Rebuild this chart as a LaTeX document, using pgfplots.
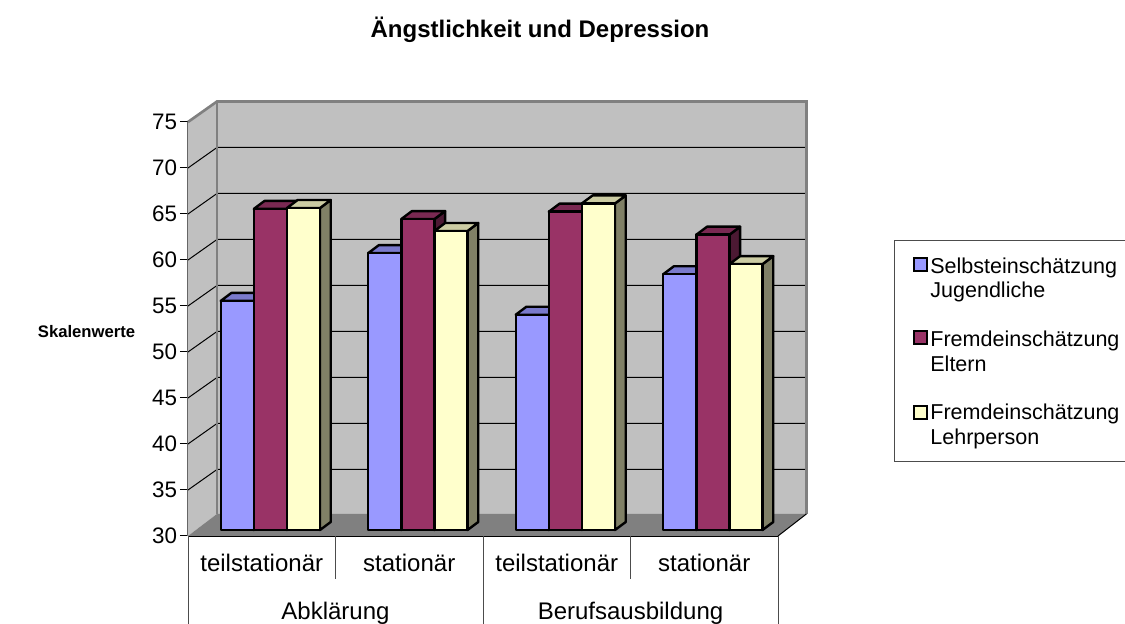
\documentclass[border=0pt]{standalone}
\usepackage{pgfplots}
\pgfplotsset{compat=1.18}
\usepackage{fontspec}
\setmainfont{Liberation Sans}
\definecolor{wall}{HTML}{C0C0C0}
\definecolor{floorc}{HTML}{808080}
\definecolor{sa}{HTML}{9999FF}
\definecolor{sb}{HTML}{993366}
\definecolor{sc}{HTML}{FFFFCC}
% px = 0.75pt ; 147.5 px per category, 9.2 px per scale unit
\newcommand\threedbar[4]{% category, series, value, colour
  \pgfmathsetmacro\xa{#1+0.2217+#2*0.2245}%
  \pgfmathsetmacro\xb{\xa+0.2245}%
  \pgfmathsetmacro\xc{\xb+0.0725}%
  \pgfmathsetmacro\xd{\xa+0.0725}%
  \pgfmathsetmacro\ya{30.65}%
  \pgfmathsetmacro\yb{#3+0.65}%
  \pgfmathsetmacro\yc{\yb+0.87}%
  \pgfmathsetmacro\yd{\ya+0.87}%
  \edef\temp{%
  \noexpand\addplot[draw=black,line width=1.8pt,line join=round,fill=#4!50!black,forget plot] coordinates {(\xb,\ya) (\xc,\yd) (\xc,\yc) (\xb,\yb)} --cycle;
  \noexpand\addplot[draw=black,line width=1.8pt,line join=round,fill=#4!80!black,forget plot] coordinates {(\xa,\yb) (\xb,\yb) (\xc,\yc) (\xd,\yc)} --cycle;
  \noexpand\addplot[draw=black,line width=1.8pt,line join=round,fill=#4,forget plot] coordinates {(\xa,\ya) (\xb,\ya) (\xb,\yb) (\xa,\yb)} --cycle;
  }\temp}
\newcommand\gridl[1]{%
  \pgfmathsetmacro\yb{#1+2.23}%
  \edef\temp{\noexpand\addplot[black,line width=0.75pt,forget plot] coordinates {(0,#1) (0.1966,\yb) (4.193,\yb)};}\temp}
\begin{document}
\begin{tikzpicture}
\path[use as bounding box] (0,0) rectangle (843.75pt,468pt);
\begin{axis}[
  at={(141pt,66pt)},anchor=origin,
  scale only axis,width=442.5pt,height=310.5pt,
  xmin=0,xmax=4,ymin=30,ymax=75,clip=false,
  axis lines=left,
  axis line style={-},
  x axis line style={draw=black,line width=0.9pt},
  y axis line style={draw=black!60,line width=0.9pt},
  xtick=\empty,
  ytick={30,35,...,75},
  tick style={black,line width=0.75pt},
  major tick length=6pt,
  tick align=outside,
  /pgf/number format/assume math mode=true,
  yticklabel style={font=\fontsize{16.8}{18}\selectfont,inner sep=2pt},
  title={\textbf{Ängstlichkeit und Depression}},
  title style={at={(rel axis cs:0.5966,1.2029)},anchor=center,font=\fontsize{18}{20}\selectfont,inner sep=0pt},
  ylabel={\textbf{Skalenwerte}},
  ylabel style={at={(rel axis cs:-0.172,0.495)},anchor=center,rotate=-90,font=\fontsize{12.5}{14}\selectfont,inner sep=0pt},
  legend style={at={(rel axis cs:1.1958,0.715)},anchor=north west,
    draw=black!70,line width=0.75pt,
    inner xsep=14pt,inner ysep=9.65pt,
    font=\fontsize{16.15}{18.5}\selectfont,
    nodes={text depth=},
    cells={anchor=west},
    row sep=13.85pt},
  legend cell align=left,
  legend image code/.code={\draw[#1,line width=1.5pt,draw=black] (-2pt,7.1pt) rectangle (7.75pt,16.9pt);},
]
% walls and floor
\addplot[draw=none,fill=wall,forget plot] coordinates {(0,30) (0,75) (0.1966,77.23) (0.1966,32.4)} --cycle;
\addplot[draw=none,fill=wall,forget plot] coordinates {(0.1966,32.4) (0.1966,77.23) (4.193,77.23) (4.193,32.4)} --cycle;
\addplot[draw=none,fill=floorc,forget plot] coordinates {(0,30) (4,30) (4.193,32.4) (0.1966,32.4)} --cycle;
\gridl{35}\gridl{40}\gridl{45}\gridl{50}\gridl{55}\gridl{60}\gridl{65}\gridl{70}
\addplot[floorc,line width=2pt,forget plot] coordinates {(0,75) (0.1966,77.23) (4.193,77.23) (4.193,32.4)};
\addplot[floorc,line width=2pt,forget plot] coordinates {(0.1966,77.23) (0.1966,32.4)};
\addplot[black,line width=0.75pt,forget plot] coordinates {(4,30) (4.193,32.4)};
% bars
\threedbar{0}{0}{54.9}{sa}\threedbar{0}{1}{64.9}{sb}\threedbar{0}{2}{65.0}{sc}
\threedbar{1}{0}{60.1}{sa}\threedbar{1}{1}{63.8}{sb}\threedbar{1}{2}{62.5}{sc}
\threedbar{2}{0}{53.4}{sa}\threedbar{2}{1}{64.6}{sb}\threedbar{2}{2}{65.5}{sc}
\threedbar{3}{0}{57.8}{sa}\threedbar{3}{1}{62.1}{sb}\threedbar{3}{2}{58.9}{sc}
% category separators
\addplot[black!70,line width=0.75pt,forget plot] coordinates {(0,30) (0,20.4)};
\addplot[black!70,line width=0.75pt,forget plot] coordinates {(1,30) (1,25.33)};
\addplot[black!70,line width=0.75pt,forget plot] coordinates {(2,30) (2,20.4)};
\addplot[black!70,line width=0.75pt,forget plot] coordinates {(3,30) (3,25.33)};
\addplot[black!70,line width=0.75pt,forget plot] coordinates {(4,30) (4,20.4)};
\foreach \c/\t in {0.5/teilstationär,1.5/stationär,2.5/teilstationär,3.5/stationär}{
  \edef\temp{\noexpand\node[font=\noexpand\fontsize{18}{20}\noexpand\selectfont] at (axis cs:\c,27.05) {\t};}\temp}
\node[font=\fontsize{18}{20}\selectfont] at (axis cs:1,21.55) {Abklärung};
\node[font=\fontsize{18}{20}\selectfont] at (axis cs:3,21.55) {Berufsausbildung};
% legend
\addlegendimage{fill=sa}
\addlegendentry{\begin{tabular}[t]{@{}l@{}}Selbsteinschätzung\\Jugendliche\end{tabular}}
\addlegendimage{fill=sb}
\addlegendentry{\begin{tabular}[t]{@{}l@{}}Fremdeinschätzung\\Eltern\end{tabular}}
\addlegendimage{fill=sc,yshift=-3pt}
\addlegendentry{\raisebox{0pt}[\height][\dimexpr\depth-4pt\relax]{\begin{tabular}[t]{@{}l@{}}Fremdeinschätzung\\Lehrperson\end{tabular}}}
\end{axis}
\end{tikzpicture}
\end{document}
